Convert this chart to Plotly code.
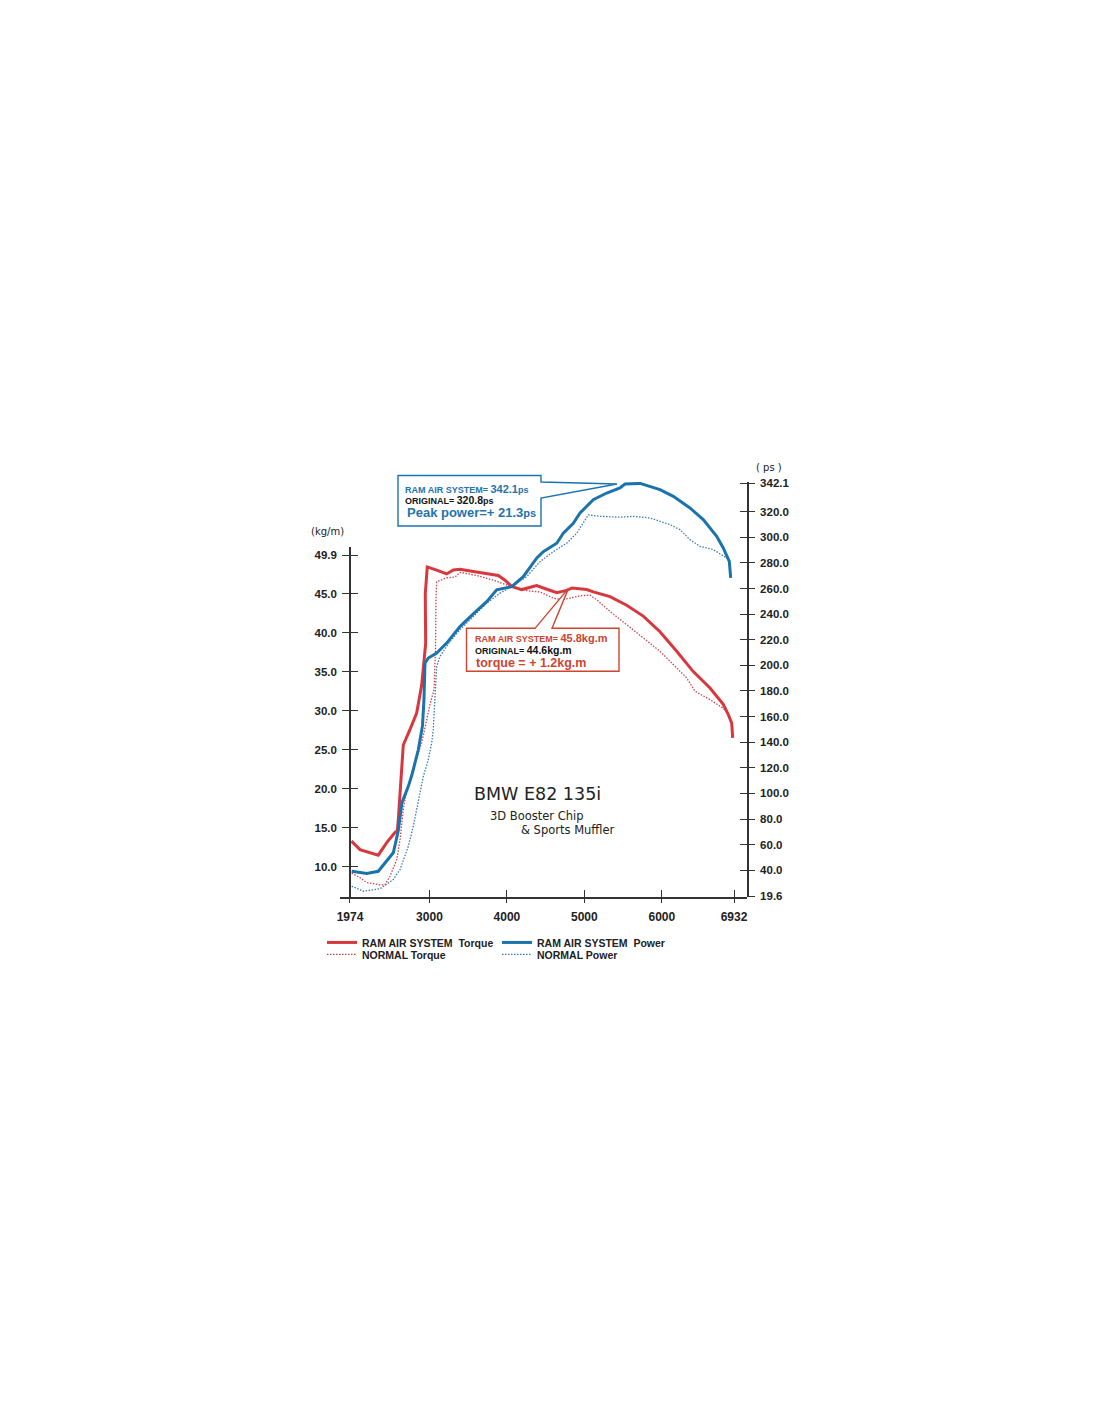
import plotly.graph_objects as go

# ---- data (rpm / kg.m / ps) ----
RPM_START = 1974
RPM_END = 6932

ram_torque_rpm = [1993, 2103, 2339, 2448, 2555, 2585, 2598, 2620, 2639, 2662, 2749, 2835, 2900, 2951,
                  2946, 2972, 3093, 3222, 3308, 3394, 3566, 3739, 3888, 3975, 4061, 4191, 4285, 4384,
                  4470, 4643, 4772, 4840, 5030, 5115, 5331, 5546, 5760, 5976, 6192, 6406, 6622, 6793,
                  6858, 6902, 6915]
ram_torque = [13.3, 12.2, 11.5, 13.1, 14.4, 14.6, 16.1, 19.5, 21.5, 25.6, 27.6, 29.7, 33.3, 38.6,
              45.0, 48.4, 48.0, 47.5, 48.0, 48.1, 47.8, 47.5, 47.3, 46.7, 45.9, 45.5, 45.7, 46.0,
              45.7, 45.1, 45.4, 45.7, 45.5, 45.2, 44.6, 43.5, 42.1, 40.1, 37.6, 35.0, 32.9, 30.8,
              29.5, 28.4, 26.5]

normal_torque_rpm = [1996, 2103, 2190, 2361, 2426, 2490, 2577, 2620, 2662, 2706, 2813, 2900, 2964, 3007,
                     3059, 3078, 3084, 3093, 3222, 3330, 3394, 3459, 3652, 3826, 3998, 4127, 4299, 4427,
                     4599, 4711, 4814, 4944, 5072, 5159, 5331, 5546, 5760, 5976, 6148, 6320, 6428, 6622,
                     6793, 6854]
normal_torque = [9.2, 8.6, 8.0, 7.7, 7.7, 8.8, 10.9, 13.5, 17.3, 19.9, 23.3, 25.9, 28.8, 30.8,
                 32.7, 37.8, 44.2, 46.5, 47.0, 47.1, 47.7, 47.6, 47.2, 46.7, 46.1, 45.6, 45.3, 45.2,
                 44.4, 44.2, 44.4, 44.7, 44.8, 44.2, 42.7, 41.0, 39.3, 37.6, 35.9, 34.2, 32.5, 31.4,
                 30.3, 29.6]

ram_power_rpm = [1996, 2190, 2339, 2533, 2598, 2645, 2727, 2774, 2856, 2910, 2929, 2942, 2985, 3093,
                 3222, 3394, 3566, 3739, 3868, 4062, 4211, 4384, 4470, 4643, 4728, 4857, 4944, 5115,
                 5288, 5460, 5524, 5718, 5976, 6148, 6363, 6535, 6708, 6793, 6871, 6889]
ram_power = [39.2, 37.4, 39.2, 53.6, 71.0, 92.8, 105.5, 114.6, 134.1, 152.9, 173.2, 201.6, 205.7, 209.6,
             217.4, 230.3, 240.2, 249.8, 259.0, 261.5, 269.3, 283.7, 288.8, 295.4, 303.2, 311.0, 319.0, 329.4,
             334.6, 338.5, 341.6, 342.1, 337.2, 332.0, 322.9, 313.8, 300.8, 291.7, 281.3, 268.3]

normal_power_rpm = [1996, 2146, 2361, 2533, 2620, 2727, 2791, 2856, 2921, 2985, 3029, 3049, 3071, 3093,
                    3136, 3265, 3394, 3566, 3739, 3911, 4082, 4255, 4427, 4599, 4772, 4901, 4986, 5051,
                    5202, 5460, 5632, 5847, 6105, 6234, 6363, 6492, 6664, 6837, 6874]
normal_power = [27.5, 23.6, 25.5, 32.7, 40.5, 58.7, 74.3, 95.1, 113.3, 126.4, 139.6, 149.8, 173.2, 199.1,
                206.9, 218.6, 227.8, 238.1, 248.6, 256.4, 262.1, 269.3, 281.0, 288.8, 295.4, 303.2, 311.0, 317.5,
                316.4, 315.7, 316.4, 315.1, 309.9, 306.0, 298.2, 293.0, 290.4, 283.9, 280.8]

# ticks
rpm_ticks = [1974, 3000, 4000, 5000, 6000, 6932]
torque_ticks = [10.0, 15.0, 20.0, 25.0, 30.0, 35.0, 40.0, 45.0, 49.9]
power_ticks = [19.6, 40.0, 60.0, 80.0, 100.0, 120.0, 140.0, 160.0, 180.0, 200.0,
               220.0, 240.0, 260.0, 280.0, 300.0, 320.0, 342.1]

# callout figures
RAM_PEAK_PS = 342.1
ORIG_PEAK_PS = 320.8
RAM_PEAK_KGM = 45.8
ORIG_PEAK_KGM = 44.6

# ---- styling ----
RED = "#d8383d"
RED_DOT = "#c8454e"
BLUE = "#1b73ad"
BLUE_DOT = "#3a7cb6"
RED_TXT = "#cc4530"
BLUE_TXT = "#2373ad"
AXIS = "#333333"
FONT = "Liberation Sans, Arial, sans-serif"

W, H = 1100, 1422
PAGE_OFF = 8                              # default body margin of the html page
PL, PR, PT, PB = 340, 747, 482, 897.5     # plot box in screenshot pixels


def xp(px):
    return (px - PL) / (PR - PL)


def yp(py):
    return (PB - py) / (PB - PT)


x_range = [1845, 7099.6]
torque_range = [6.14, 50.96]
power_range = [19.1, 343.2]

fig = go.Figure()

fig.add_trace(go.Scatter(x=normal_torque_rpm, y=normal_torque, mode="lines", name="NORMAL Torque",
                         line=dict(color=RED_DOT, width=1.3, dash="1.5px,1.5px"),
                         xaxis="x", yaxis="y", legend="legend2", hoverinfo="skip"))
fig.add_trace(go.Scatter(x=normal_power_rpm, y=normal_power, mode="lines", name="NORMAL Power",
                         line=dict(color=BLUE_DOT, width=1.3, dash="1.5px,1.5px"),
                         xaxis="x", yaxis="y2", legend="legend2", hoverinfo="skip"))
fig.add_trace(go.Scatter(x=ram_torque_rpm, y=ram_torque, mode="lines", name="RAM AIR SYSTEM\u00a0\u00a0Torque",
                         line=dict(color=RED, width=3),
                         xaxis="x", yaxis="y", legend="legend", hoverinfo="skip"))
fig.add_trace(go.Scatter(x=ram_power_rpm, y=ram_power, mode="lines", name="RAM AIR SYSTEM\u00a0\u00a0Power",
                         line=dict(color=BLUE, width=3),
                         xaxis="x", yaxis="y2", legend="legend", hoverinfo="skip"))
# empty traces so the helper axes (inner half of the crossing ticks) get drawn
for xa, ya in [("x3", "y"), ("x", "y3"), ("x", "y4")]:
    fig.add_trace(go.Scatter(x=[], y=[], xaxis=xa, yaxis=ya, showlegend=False, hoverinfo="skip"))

tick_font = dict(family=FONT, size=11.5, color="#222", weight="bold")
left_pos = xp(350)
left_top = yp(547)

fig.update_layout(
    width=W, height=H,
    margin=dict(l=PL - PAGE_OFF, r=W - PR + PAGE_OFF, t=PT - PAGE_OFF, b=H - PB + PAGE_OFF,
                autoexpand=False),
    paper_bgcolor="white", plot_bgcolor="rgba(0,0,0,0)",
    xaxis=dict(domain=[0, 1], range=x_range, anchor="y", tickmode="array", tickvals=rpm_ticks,
               ticktext=[str(v) for v in rpm_ticks], ticks="outside", ticklen=4, tickwidth=1.3,
               tickcolor=AXIS, showline=True, linecolor=AXIS, linewidth=1.6, showgrid=False,
               zeroline=False, tickfont=dict(family=FONT, size=12, color="#222", weight="bold"),
               ticklabelstandoff=4),
    xaxis3=dict(overlaying="x", range=x_range, anchor="y", tickmode="array", tickvals=rpm_ticks,
                ticks="inside", ticklen=7, tickwidth=1.3, tickcolor=AXIS, showticklabels=False,
                showline=False, showgrid=False, zeroline=False),
    yaxis=dict(domain=[0, left_top], range=torque_range, anchor="free", position=left_pos,
               tickmode="array", tickvals=torque_ticks, ticktext=[f"{v:.1f}" for v in torque_ticks],
               ticks="outside", ticklen=7, tickwidth=1.3, tickcolor=AXIS, showline=True,
               linecolor=AXIS, linewidth=1.6, showgrid=False, zeroline=False, tickfont=tick_font,
               ticklabelstandoff=3),
    yaxis3=dict(overlaying="y", range=torque_range, anchor="free", position=left_pos,
                tickmode="array", tickvals=torque_ticks, ticks="inside", ticklen=7, tickwidth=1.3,
                tickcolor=AXIS, showticklabels=False, showline=False, showgrid=False, zeroline=False),
    yaxis2=dict(domain=[0, 1], range=power_range, anchor="x", side="right", tickmode="array",
                tickvals=power_ticks, ticktext=[f"{v:.1f}" for v in power_ticks], ticks="outside",
                ticklen=6, tickwidth=1.3, tickcolor=AXIS, showline=True, linecolor=AXIS, linewidth=1.6,
                showgrid=False, zeroline=False, tickfont=tick_font, ticklabelstandoff=3),
    yaxis4=dict(overlaying="y2", range=power_range, anchor="x", side="right", tickmode="array",
                tickvals=power_ticks, ticks="inside", ticklen=7, tickwidth=1.3, tickcolor=AXIS,
                showticklabels=False, showline=False, showgrid=False, zeroline=False),
    legend=dict(orientation="h", x=xp(322), y=yp(943), xanchor="left", yanchor="middle",
                entrywidth=130, entrywidthmode="pixels", itemwidth=30, bgcolor="rgba(0,0,0,0)",
                font=dict(family=FONT, size=10.5, color="#222", weight="bold")),
    legend2=dict(orientation="h", x=xp(322), y=yp(955), xanchor="left", yanchor="middle",
                 entrywidth=130, entrywidthmode="pixels", itemwidth=30, bgcolor="rgba(0,0,0,0)",
                 font=dict(family=FONT, size=10.5, color="#222", weight="bold")),
    showlegend=True,
)


def box_path(points):
    return "M " + " L ".join(f"{xp(a):.5f},{yp(b):.5f}" for a, b in points) + " Z"


# callout frames with their pointers
fig.add_shape(type="path", xref="paper", yref="paper", layer="above",
              path=box_path([(398, 475.5), (541, 475.5), (541, 482), (617, 484), (541, 498),
                             (541, 526), (398, 526)]),
              line=dict(color=BLUE, width=1.4), fillcolor="white")
fig.add_shape(type="path", xref="paper", yref="paper", layer="above",
              path=box_path([(466.5, 628.5), (535, 628.5), (568.5, 588.5), (552, 628.5),
                             (619, 628.5), (619, 671.5), (466.5, 671.5)]),
              line=dict(color=RED_TXT, width=1.4), fillcolor="white")


def label(px, py, text, size, color, weight="normal", family=FONT, xanchor="left"):
    fig.add_annotation(x=xp(px), y=yp(py), xref="paper", yref="paper", text=text, showarrow=False,
                       xanchor=xanchor, yanchor="middle", align="left",
                       font=dict(family=family, size=size, color=color, weight=weight))


gain_ps = RAM_PEAK_PS - ORIG_PEAK_PS
gain_kgm = RAM_PEAK_KGM - ORIG_PEAK_KGM

label(403, 489, f"RAM AIR SYSTEM= <span style='font-size:11px'>{RAM_PEAK_PS:.1f}</span>ps", 9, BLUE_TXT, "bold")
label(403, 500, f"ORIGINAL= <span style='font-size:10.5px'>{ORIG_PEAK_PS:.1f}</span>ps", 9, "#111", "bold")
label(405, 513, f"Peak power=+ {gain_ps:.1f}<span style='font-size:11px'>ps</span>", 13, BLUE_TXT, "bold")

label(473, 638.5, f"RAM AIR SYSTEM= <span style='font-size:11px'>{RAM_PEAK_KGM:.1f}kg.m</span>", 9, RED_TXT, "bold")
label(473, 650.5, f"ORIGINAL= <span style='font-size:10.5px'>{ORIG_PEAK_KGM:.1f}kg.m</span>", 9, "#111", "bold")
label(474, 663, f"torque = + {gain_kgm:.1f}kg.m", 12.5, RED_TXT, "bold")

# axis unit labels
label(327, 532, "(kg/m)", 10, "#222", xanchor="center", family="DejaVu Sans, sans-serif")
label(769, 467, "( ps )", 10, "#222", xanchor="center", family="DejaVu Sans, sans-serif")

# car / kit caption
label(537, 794, "BMW E82 135i", 17.5, "#222", xanchor="center", family="DejaVu Sans, sans-serif")
label(488, 816, "3D Booster Chip", 11.5, "#222", family="DejaVu Sans, sans-serif")
label(519, 830, "&amp; Sports Muffler", 11.5, "#222", family="DejaVu Sans, sans-serif")

fig.write_html("out.html")
